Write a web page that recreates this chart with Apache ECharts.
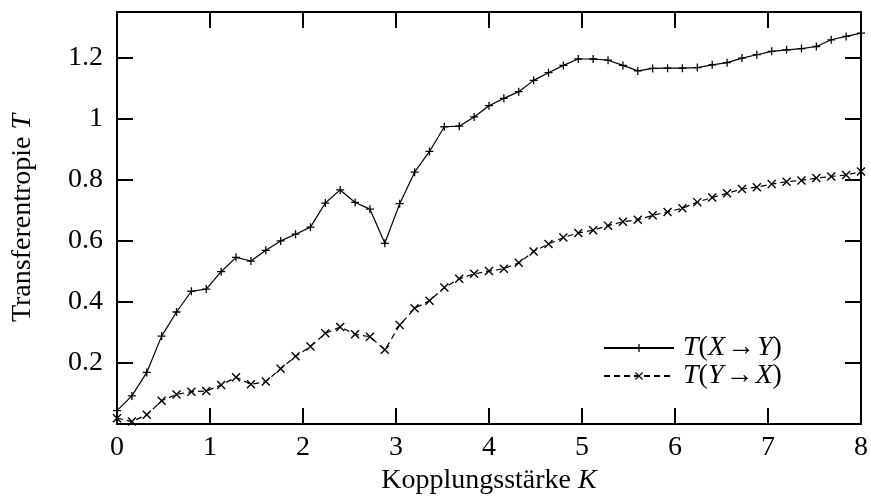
<!DOCTYPE html>
<html>
<head>
<meta charset="utf-8">
<title>Transferentropie</title>
<script src="https://cdn.jsdelivr.net/npm/echarts@6/dist/echarts.min.js"></script>
<style>
  html, body { margin: 0; padding: 0; background: #fff; }
  #chart { width: 871px; height: 503px; }
</style>
</head>
<body>
<div id="chart"></div>
<script>
// Coupling strength K (x values)
const kValues = [0, 0.16, 0.32, 0.48, 0.64, 0.8, 0.96, 1.12, 1.28, 1.44, 1.6, 1.76, 1.92, 2.08, 2.24, 2.4, 2.56, 2.72, 2.88, 3.04, 3.2, 3.36, 3.52, 3.68, 3.84, 4, 4.16, 4.32, 4.48, 4.64, 4.8, 4.96, 5.12, 5.28, 5.44, 5.6, 5.76, 5.92, 6.08, 6.24, 6.4, 6.56, 6.72, 6.88, 7.04, 7.2, 7.36, 7.52, 7.68, 7.84, 8];

// Transfer entropy T(X→Y)
const tXY = [0.044, 0.092, 0.169, 0.288, 0.367, 0.435, 0.442, 0.499, 0.546, 0.534, 0.569, 0.600, 0.622, 0.645, 0.724, 0.767, 0.726, 0.704, 0.592, 0.722, 0.825, 0.893, 0.974, 0.976, 1.006, 1.043, 1.067, 1.089, 1.126, 1.151, 1.175, 1.196, 1.196, 1.192, 1.175, 1.157, 1.165, 1.166, 1.166, 1.168, 1.177, 1.184, 1.199, 1.210, 1.221, 1.226, 1.230, 1.237, 1.259, 1.270, 1.281];

// Transfer entropy T(Y→X)
const tYX = [0.019, 0.008, 0.030, 0.076, 0.097, 0.106, 0.108, 0.128, 0.153, 0.130, 0.139, 0.181, 0.222, 0.254, 0.297, 0.318, 0.294, 0.286, 0.243, 0.324, 0.379, 0.404, 0.447, 0.476, 0.492, 0.501, 0.509, 0.528, 0.565, 0.590, 0.611, 0.626, 0.635, 0.650, 0.663, 0.669, 0.684, 0.695, 0.707, 0.727, 0.742, 0.756, 0.770, 0.776, 0.786, 0.794, 0.798, 0.806, 0.811, 0.816, 0.827];

const seriesNames = ['T(X→Y)', 'T(Y→X)'];
const legendLabels = ['{i|T}({i|X}{a|→}{i|Y})', '{i|T}({i|Y}{a|→}{i|X})'];

const FONT = '"Liberation Serif", "DejaVu Serif", serif';
const FS = 28;

// gnuplot-style point markers
const PLUS = 'path://M0,4.2H10V5.8H0Z M4.2,0H5.8V10H4.2Z';
const CROSS = 'path://M0,1.1L1.1,0L10,8.9L8.9,10Z M8.9,0L10,1.1L1.1,10L0,8.9Z';

const italicRich = {
  i: { fontFamily: FONT, fontSize: FS, fontStyle: 'italic', color: '#000', lineHeight: 27 },
  a: { fontFamily: FONT, fontSize: FS, color: '#000', lineHeight: 27, padding: [0, 2, 0, 2] }
};

const frameLine = { show: true, onZero: false, lineStyle: { color: '#000', width: 2 } };
const innerTick = { show: true, inside: true, length: 16, lineStyle: { color: '#000', width: 2 } };

const chart = echarts.init(document.getElementById('chart'), null, { renderer: 'canvas' });

chart.setOption({
  animation: false,
  backgroundColor: '#fff',
  grid: { left: 117, right: 8, top: 12, bottom: 79, containLabel: false },
  legend: {
    orient: 'vertical',
    left: 603,
    top: 334,
    padding: 0,
    itemWidth: 70,
    itemHeight: 10,
    itemGap: 0,
    data: seriesNames,
    formatter: name => legendLabels[seriesNames.indexOf(name)],
    textStyle: {
      fontFamily: FONT, fontSize: FS, color: '#000', lineHeight: 27, padding: [0, 0, 0, 4],
      rich: italicRich
    }
  },
  xAxis: [
    {
      type: 'value', position: 'bottom', min: 0, max: 8, interval: 1,
      axisLine: frameLine, axisTick: innerTick, splitLine: { show: false },
      axisLabel: { margin: 10, fontFamily: FONT, fontSize: FS, color: '#000' },
      name: 'Kopplungsstärke {i|K}', nameLocation: 'middle', nameGap: 42,
      nameTextStyle: { fontFamily: FONT, fontSize: FS, color: '#000', rich: italicRich }
    },
    {
      type: 'value', position: 'top', min: 0, max: 8, interval: 1,
      axisLine: frameLine, axisTick: innerTick, splitLine: { show: false },
      axisLabel: { show: false }
    }
  ],
  yAxis: [
    {
      type: 'value', position: 'left', min: 0, max: 1.35, interval: 0.2,
      axisLine: frameLine, axisTick: innerTick, splitLine: { show: false },
      axisLabel: {
        margin: 14, fontFamily: FONT, fontSize: FS, color: '#000',
        showMinLabel: false, showMaxLabel: false
      },
      name: 'Transferentropie {i|T}', nameLocation: 'middle', nameGap: 80, nameRotate: 90,
      nameTextStyle: { fontFamily: FONT, fontSize: FS, color: '#000', rich: italicRich }
    },
    {
      type: 'value', position: 'right', min: 0, max: 1.35, interval: 0.2,
      axisLine: frameLine, axisTick: innerTick, splitLine: { show: false },
      axisLabel: { show: false }
    }
  ],
  series: [
    {
      name: seriesNames[0], type: 'line', xAxisIndex: 0, yAxisIndex: 0,
      data: kValues.map((k, i) => [k, tXY[i]]),
      symbol: PLUS, symbolSize: 8, showSymbol: true, showAllSymbol: true,
      itemStyle: { color: '#000', borderWidth: 0 },
      lineStyle: { color: '#000', width: 1.2, type: 'solid' },
      clip: false
    },
    {
      name: seriesNames[1], type: 'line', xAxisIndex: 0, yAxisIndex: 0,
      data: kValues.map((k, i) => [k, tYX[i]]),
      symbol: CROSS, symbolSize: 9, showSymbol: true, showAllSymbol: true,
      itemStyle: { color: '#000', borderWidth: 0 },
      lineStyle: { color: '#000', width: 1.2, type: [6, 4] },
      clip: false
    }
  ]
});
</script>
</body>
</html>
